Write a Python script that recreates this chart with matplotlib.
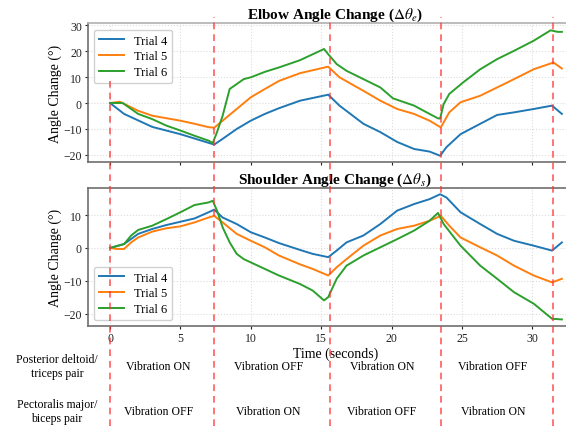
import matplotlib
matplotlib.use("Agg")
import matplotlib.pyplot as plt
from matplotlib.lines import Line2D
from matplotlib.transforms import blended_transform_factory

plt.rcParams['font.family'] = ['Liberation Serif', 'DejaVu Serif']
plt.rcParams['mathtext.fontset'] = 'stix'

# ---------------- data ----------------
# Elbow angle change
t_e4 = [0, 1, 3, 5, 6.5, 7.4, 8, 9, 10, 11, 12, 13.5, 15.5, 16.3, 18, 19.2, 20.4, 21.6, 22.7, 23.45, 23.9, 24.9, 26.3, 27.5, 28.7, 30.1, 31.4, 32.1]
e4 = [0, -4.2, -9.2, -12, -14.5, -16, -13.8, -10, -6.8, -4.2, -2.0, 0.9, 3.2, -1, -8, -11.2, -15, -17.7, -18.7, -20.3, -17, -12, -8, -4.6, -3.6, -2.3, -1, -4.2]
t_e5 = [0, 0.7, 2, 3, 5, 6, 7, 7.4, 8, 9, 10, 11, 12, 13.5, 15.5, 16.3, 18, 19.2, 20.4, 21.6, 22.7, 23.5, 24.1, 24.9, 26.3, 27.5, 28.7, 30.1, 31.5, 32.1]
e5 = [0, 0.5, -3, -4.9, -6.8, -8, -9.3, -9.5, -6.8, -2.3, 2.2, 5.4, 8.5, 11.5, 14, 9.9, 4.7, 0.9, -2.3, -4.2, -6.8, -9.4, -3.6, 0.3, 2.8, 6, 9.2, 13, 15.6, 13.3]
t_e6 = [0, 0.9, 2, 3, 4, 5, 6, 7, 7.3, 7.6, 8, 8.5, 9, 9.5, 10, 11, 12, 13.5, 15.2, 15.5, 16.1, 16.8, 18, 19.2, 20.1, 21.6, 22.7, 23.3, 23.45, 23.7, 24.1, 25.1, 26.3, 27.5, 28.7, 30.1, 31.3, 31.8, 32.1]
e6 = [0, 0, -4.2, -6.2, -8.7, -10.6, -12.6, -14.5, -15.4, -11.2, -4.9, 5.4, 7.3, 9.2, 9.9, 12, 13.7, 16.5, 20.8, 18.8, 15, 12.4, 9.2, 6, 1.8, -1, -4.2, -5.9, -6, -0.4, 3.5, 8, 13, 16.9, 20.1, 24, 28, 27.4, 27.4]

# Shoulder angle change
t_s4 = [0, 1, 2, 3, 4, 5, 6, 7, 7.4, 8, 9, 10, 11, 12, 13.5, 14.4, 15.5, 16.1, 16.8, 18, 19.2, 20.4, 21.6, 22.7, 23.45, 23.9, 24.9, 26.3, 27.5, 28.7, 30.1, 31.4, 32.1]
s4 = [0, 1.2, 4.3, 5.8, 7, 8, 9, 10.9, 11.7, 9.3, 7.3, 4.8, 3.2, 1.5, -0.6, -1.8, -2.8, -0.8, 1.7, 3.8, 7.3, 11.4, 13.4, 14.9, 16.4, 15.4, 10.9, 7.3, 4.3, 2.2, 0.7, -0.8, 1.7]
t_s5 = [0, 0.5, 1, 1.5, 2, 3, 4, 5, 6, 7, 7.4, 8, 9, 10, 11, 12, 13.5, 14.4, 15.5, 16.1, 16.8, 18, 19.2, 20.4, 21.6, 22.7, 23.5, 24.1, 24.9, 26.3, 27.5, 28.7, 30.1, 31.4, 32.1]
s5 = [0, -0.3, -0.3, 1.7, 3.2, 5, 6, 6.6, 7.8, 9.3, 9.8, 7.8, 4.3, 2.2, 0.2, -2.3, -5.0, -6.4, -8.4, -5.9, -3.4, 0.7, 3.8, 5.8, 6.8, 8.3, 9.8, 6.8, 3.2, 0.2, -2.3, -5.4, -8.4, -10.5, -9.4]
t_s6 = [0, 1, 1.5, 2, 3, 4, 5, 6, 7, 7.3, 7.6, 8, 8.5, 9, 9.5, 10, 11, 12, 13.5, 14.4, 15.2, 15.5, 16.1, 16.8, 18, 19.2, 20.4, 21.6, 22.7, 23.3, 23.7, 24.9, 26.3, 27.5, 28.7, 30.1, 31.4, 32.1]
s6 = [0, 1.2, 3.8, 5.5, 6.8, 8.8, 10.9, 13.1, 13.9, 14.4, 11.4, 6.3, 1.7, -1.8, -3.4, -4.4, -6.4, -8.4, -11, -13, -16, -15, -9.4, -5.4, -2.3, 0.2, 2.7, 5.3, 8.3, 10.7, 7.3, 0.7, -5.4, -9.4, -13.5, -17, -21.6, -21.8]

trial_labels = ['Trial 4', 'Trial 5', 'Trial 6']
event_times = [0, 7.39, 15.64, 23.48, 31.44]
row_labels = ['Posterior deltoid/\ntriceps pair', 'Pectoralis major/\nbiceps pair']
row1_states = ['Vibration ON', 'Vibration OFF', 'Vibration ON', 'Vibration OFF']
row2_states = ['Vibration OFF', 'Vibration ON', 'Vibration OFF', 'Vibration ON']

colors = ['#1f77b4', '#ff7f0e', '#2ca02c']

# ---------------- figure ----------------
fig = plt.figure(figsize=(5.66, 4.27), dpi=100)
W, H = 566.0, 427.0
left = 87.5 / W
width = (583 - 87.5) / W
ax1 = fig.add_axes([left, 1 - 162.7 / H, width, (162.7 - 24.3) / H])
ax2 = fig.add_axes([left, 1 - 327.3 / H, width, (327.3 - 189.0) / H])


def style(ax):
    ax.grid(True, color='#dcdcdc', linestyle=':', linewidth=0.8)
    ax.set_axisbelow(True)
    for sp in ax.spines.values():
        sp.set_color('#6e6e6e')
        sp.set_linewidth(1.2)
    ax.tick_params(labelsize=8.5, colors='#222222', length=2, width=0.8, pad=2)
    ax.set_xlim(-1.6, 33.6)


series_e = [(t_e4, e4), (t_e5, e5), (t_e6, e6)]
series_s = [(t_s4, s4), (t_s5, s5), (t_s6, s6)]

for (tx, vy), c, lab in zip(series_e, colors, trial_labels):
    ax1.plot(tx, vy, color=c, lw=1.4, label=lab)
for (tx, vy), c, lab in zip(series_s, colors, trial_labels):
    ax2.plot(tx, vy, color=c, lw=1.4, label=lab)

style(ax1)
style(ax2)
ax1.spines['top'].set_color('#b0b0b0')
ax1.set_ylim(-22.6, 30.7)
ax2.set_ylim(-23.9, 18.3)
ax1.set_yticks([-20, -10, 0, 10, 20, 30])
ax2.set_yticks([-20, -10, 0, 10])
ax1.set_xticks([0, 5, 10, 15, 20, 25, 30])
ax1.set_xticklabels([])
ax2.set_xticks([0, 5, 10, 15, 20, 25, 30])

ax1.set_title(r'Elbow Angle Change ($\Delta\theta_e$)', fontsize=11, fontweight='bold', pad=3)
ax2.set_title(r'Shoulder Angle Change ($\Delta\theta_s$)', fontsize=11, fontweight='bold', pad=3)
ax1.set_ylabel('Angle Change (°)', fontsize=10, labelpad=1)
ax2.set_ylabel('Angle Change (°)', fontsize=10, labelpad=1)
ax2.set_xlabel('Time (seconds)', fontsize=10, labelpad=2)

ax1.legend(loc='upper left', fontsize=9, framealpha=0.9, edgecolor='#cccccc',
           handlelength=2.0, borderpad=0.4, labelspacing=0.3)
ax2.legend(loc='lower left', fontsize=9, framealpha=0.9, edgecolor='#cccccc',
           handlelength=2.0, borderpad=0.4, labelspacing=0.3)

# red dashed event lines spanning the figure
tr = blended_transform_factory(ax1.transData, fig.transFigure)
for i, et in enumerate(event_times):
    top = 1 - (78 if i == 0 else 18) / H
    fig.add_artist(Line2D([et, et], [0, top], transform=tr, color='#ff3333',
                          alpha=0.8, lw=1.2, linestyle=(0, (4, 3)), zorder=5))

# table of vibration states
row_y = [1 - 367 / H, 1 - 412 / H]
for ry, lab in zip(row_y, row_labels):
    fig.text(57 / W, ry, lab, ha='center', va='center', fontsize=8.5, linespacing=1.3)
mids = [(event_times[i] + event_times[i + 1]) / 2 - 0.25 for i in range(4)]
for states, ry in zip([row1_states, row2_states], row_y):
    for m, s in zip(mids, states):
        fig.text(m, ry, s, transform=tr, ha='center', va='center', fontsize=8.5)

fig.savefig('out.png', dpi=100)
